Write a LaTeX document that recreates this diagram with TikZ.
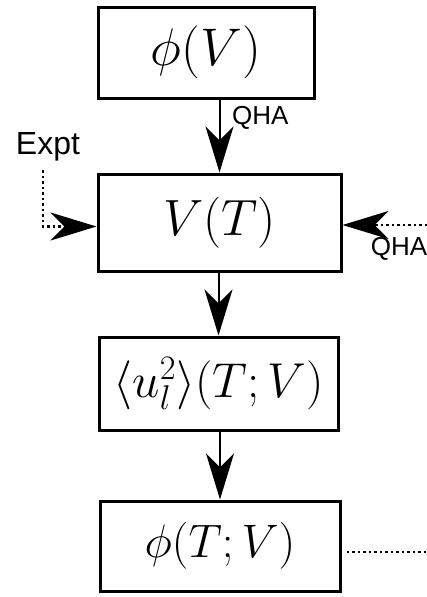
\documentclass[tikz,border=0pt]{standalone}
\usepackage{fix-cm}
\usepackage{fontspec}
\newfontfamily\labelfont{Liberation Sans}
\usetikzlibrary{arrows.meta}

\begin{document}
\begin{tikzpicture}[
          x=1pt, y=-1pt,
          box/.style={draw, line width=3pt, inner sep=0pt},
          lbl/.style={font=\labelfont\fontsize{26}{30}\selectfont, inner sep=0pt},
          head/.style={-{Stealth[length=46pt, width=28pt, inset=14pt]}},
          flow/.style={head, line width=2pt},
          dots/.style={line width=2.5pt, dash pattern=on 2.5pt off 3pt}
      ]
        \useasboundingbox (0,0) rectangle (427,597);

        % Boxes
        \node[box, minimum width=216pt, minimum height=91pt, font=\fontsize{53}{58}\selectfont] (phiV) at (206,52.5) {$\phi(V)$};
        \node[box, minimum width=243pt, minimum height=97pt, font=\fontsize{51}{56}\selectfont] (VT) at (219.5,222.5) {$V(T)$};
        \node[box, minimum width=239pt, minimum height=93pt, font=\fontsize{49}{54}\selectfont] (uT) at (218.5,383.5) {$\langle u_l^2\rangle(T;V)$};
        \node[box, minimum width=240pt, minimum height=90pt, font=\fontsize{47}{52}\selectfont] (phiT) at (220,546) {$\phi(T;V)$};

        % Main chain
        \draw[flow] (phiV.south -| VT) -- (VT.north);
        \node[lbl, anchor=west] (qhaTop) at (232,118) {QHA};
        \draw[flow] (VT.south -| uT) -- (uT.north);
        \draw[flow] (uT.south -| phiT) -- (phiT.north);

        % Inputs to V(T)
        \node[lbl, font=\labelfont\fontsize{32}{36}\selectfont] (expt) at (48,147) {Expt};
        \coordinate (exptEnd) at (43,170);
        \draw[dots, head] (exptEnd) |- ([yshift=-4pt]VT.west);

        \coordinate (qhaEnd) at (427,225);
        \draw[dots, head] (qhaEnd) -- (qhaEnd -| VT.east);
        \node[lbl] (qhaSide) at (399,249) {QHA};

        % Output
        \coordinate (outEnd) at (427,552);
        \draw[dots] ([xshift=5pt]phiT.east |- outEnd) -- (outEnd);
      \end{tikzpicture}
\end{document}
